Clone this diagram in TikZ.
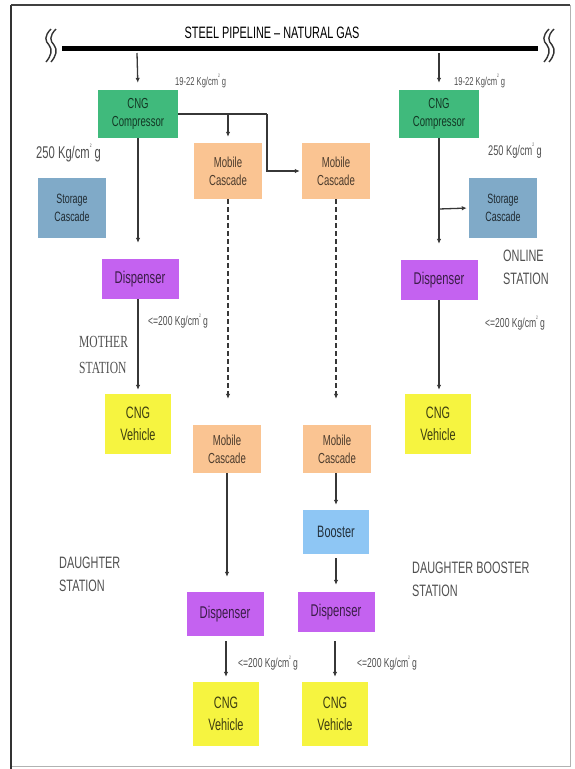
\documentclass[tikz,border=0pt]{standalone}
\usepackage{fontspec}
\setmainfont[FakeStretch=0.66]{Liberation Sans}
\newfontfamily\stationserif[FakeStretch=0.68]{Liberation Serif}
\usetikzlibrary{arrows.meta,positioning,calc}
\definecolor{cnggreen}{RGB}{64,186,124}
\definecolor{cngpeach}{RGB}{250,196,146}
\definecolor{cngsteel}{RGB}{128,170,200}
\definecolor{cngpurple}{RGB}{196,98,240}
\definecolor{cngyellow}{RGB}{246,244,64}
\definecolor{cngsky}{RGB}{142,198,244}
\definecolor{cngline}{RGB}{55,55,55}
\definecolor{cngtext}{RGB}{80,80,80}
\newcommand{\kgsq}{Kg/cm\raisebox{0.62em}{\fontsize{5}{5}\selectfont 2}\,g}

\begin{document}
\begin{tikzpicture}[x=1pt,y=-1pt,
  box/.style={inner sep=0pt,align=center,font=\fontsize{14.5}{18}\selectfont},
  comp/.style={box,fill=cnggreen,text=cnggreen!30!black,minimum width=80pt,minimum height=48pt},
  mobile/.style={box,fill=cngpeach,text=cngpeach!30!black,minimum width=68pt,minimum height=56pt},
  storage/.style={box,fill=cngsteel,text=cngsteel!25!black,minimum width=68pt,minimum height=60pt,font=\fontsize{13.5}{18}\selectfont},
  dispenser/.style={box,fill=cngpurple,text=cngpurple!30!black,minimum width=77pt,minimum height=40pt,font=\fontsize{17}{19}\selectfont},
  vehicle/.style={box,fill=cngyellow,text=cngyellow!25!black,minimum width=66pt,minimum height=60pt,font=\fontsize{16.5}{22}\selectfont},
  booster/.style={box,fill=cngsky,text=cngsky!25!black,minimum width=66pt,minimum height=44pt,font=\fontsize{16.5}{19}\selectfont},
  note/.style={inner sep=0pt,anchor=west,text=cngtext,font=\fontsize{13}{14}\selectfont},
  station/.style={inner sep=0pt,anchor=north west,align=left,text=cngtext,font=\fontsize{16.5}{23}\selectfont},
  flow/.style={-{Latex[length=5pt,width=4.5pt]},draw=cngline,line width=1.3pt},
  dashflow/.style={flow,dash pattern=on 5pt off 3pt},
  pipe/.style={draw=black,line width=5pt},
  breakmark/.style={draw=black!80,line width=1.4pt}]

% frame
\path[use as bounding box] (0,0) rectangle (575,769);
\draw[draw=black!30,line width=1pt] (11,5) rectangle (570,766);
\draw[draw=black!80,line width=2pt] (11,5) -- (11,769);
\draw[draw=black!75,line width=1.2pt] (11,5) -- (570,5);

% pipeline
\node[font=\fontsize{16.5}{18}\selectfont] (pipetitle) at (272,33) {STEEL PIPELINE -- NATURAL GAS};
\draw[pipe] (62,48) -- (538,48);
\foreach \bx in {48,546}{
  \foreach \dx in {0,5}
    \draw[breakmark] (\bx+\dx+3,29) .. controls (\bx+\dx-4,36) and (\bx+\dx-3,41) .. (\bx+\dx+1,45)
      .. controls (\bx+\dx+5,50) and (\bx+\dx+3,56) .. (\bx+\dx-2,62);
}
\coordinate (tapL) at (137,53);
\coordinate (tapR) at (439,53);

% mother station
\node[comp] (compL) at (138,114) {CNG\\Compressor};
\node[mobile] (mob1) at (228,171) {Mobile\\Cascade};
\node[mobile] (mob2) at (336,171) {Mobile\\Cascade};
\node[storage] (storL) at (72,208) {Storage\\Cascade};
\node[dispenser] (dispL) at (140,279) {Dispenser};
\node[vehicle] (vehL) at (138,424) {CNG\\Vehicle};

% online station
\node[comp] (compR) at (439,114) {CNG\\Compressor};
\node[storage] (storR) at (503,208) {Storage\\Cascade};
\node[dispenser] (dispR) at (439,280) {Dispenser};
\node[vehicle] (vehR) at (438,424) {CNG\\Vehicle};

% daughter stations
\node[mobile,minimum height=48pt] (mob3) at (227,449) {Mobile\\Cascade};
\node[mobile,minimum height=48pt] (mob4) at (337,449) {Mobile\\Cascade};
\node[booster] (boost) at (336,532) {Booster};
\node[dispenser,minimum height=44pt] (disp3) at (225,614) {Dispenser};
\node[dispenser] (disp4) at (336,612) {Dispenser};
\node[vehicle,minimum height=64pt] (veh3) at (226,714) {CNG\\Vehicle};
\node[vehicle,minimum height=64pt] (veh4) at (335,714) {CNG\\Vehicle};

% labels
\node[note,font=\fontsize{11.5}{13}\selectfont] (pinL) at (175,81) {19-22 \kgsq};
\node[note,font=\fontsize{11.5}{13}\selectfont] (pinR) at (454,81) {19-22 \kgsq};
\node[note,font=\fontsize{17}{18}\selectfont] (phiL) at (36,153) {250 \kgsq};
\node[note,font=\fontsize{14}{15}\selectfont] (phiR) at (488,151) {250 \kgsq};
\node[note] (poutL) at (148,321) {<=200 \kgsq};
\node[note] (poutR) at (485,323) {<=200 \kgsq};
\node[note] (pout3) at (238,663) {<=200 \kgsq};
\node[note] (pout4) at (357,663) {<=200 \kgsq};
\node[station,font=\stationserif\fontsize{17}{26}\selectfont] (mother) at (79,336) {MOTHER\\STATION};
\node[station] (online) at (503,250) {ONLINE\\STATION};
\node[station] (daughter) at (59,557) {DAUGHTER\\STATION};
\node[station] (dbooster) at (412,562) {DAUGHTER BOOSTER\\STATION};

% connectors
\coordinate (splitL) at (228,114);
\coordinate (bendL) at (267,114);
\coordinate (splitR) at (439,209);
\draw[flow,shorten >=7pt] (tapL) -- (compL.north);
\draw[flow,shorten >=7pt] (tapR) -- (compR.north);
\draw[cngline,line width=1.3pt] (compL.east) -- (bendL);
\draw[flow,shorten >=2pt] (bendL) |- (mob2.west);
\draw[flow,shorten >=6pt] (splitL) -- (mob1.north);
\draw[flow,shorten >=16pt] (compL.south) -- (dispL.north -| compL.south);
\draw[flow,shorten >=4pt] (dispL.south -| compL.south) -- (vehL.north -| compL.south);
\draw[flow,shorten >=16pt] (compR.south) -- (dispR.north);
\draw[flow,shorten >=2pt] (splitR) -- (storR.west);
\draw[flow,shorten >=4pt] (dispR.south) -- (vehR.north -| dispR.south);
\draw[dashflow,shorten >=26pt] (mob1.south) -- (mob3.north -| mob1.south);
\draw[dashflow,shorten >=26pt] (mob2.south) -- (mob4.north -| mob2.south);
\draw[flow,shorten >=15pt] (mob3.south) -- (disp3.north -| mob3.south);
\draw[flow,shorten >=5pt] (mob4.south -| boost.north) -- (boost.north);
\draw[flow,shorten <=4pt,shorten >=7pt] (boost.south) -- (disp4.north);
\draw[flow,shorten <=5pt,shorten >=5pt] (disp3.south -| veh3.north) -- (veh3.north);
\draw[flow,shorten <=9pt,shorten >=5pt] (disp4.south -| veh4.north) -- (veh4.north);

\end{tikzpicture}
\end{document}
